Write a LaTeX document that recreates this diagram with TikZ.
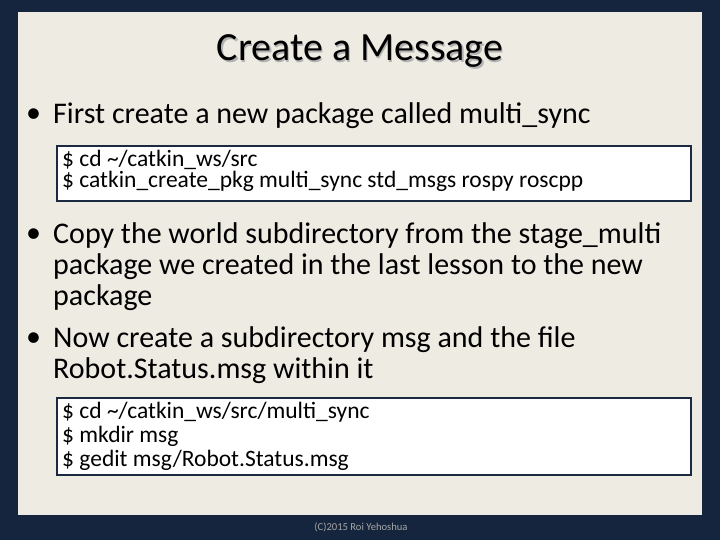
\documentclass[tikz,border=0pt]{standalone}
\usepackage{fontspec}
\setmainfont{Carlito}
\definecolor{slidebg}{HTML}{14253D}
\definecolor{panel}{HTML}{EEEBE3}
\definecolor{boxline}{HTML}{1B2A41}
\tikzset{
  bodytext/.style={anchor=west,inner sep=0pt,font=\fontsize{30}{34}\selectfont},
  codetext/.style={anchor=west,inner sep=0pt,font=\fontsize{23.5}{26}\selectfont},
  codebox/.style={draw=boxline,line width=2pt,fill=white}
}
\begin{document}
\begin{tikzpicture}[x=1pt,y=-1pt]
		\useasboundingbox (0,0) rectangle (720,540);
		\fill[slidebg] (0,0) rectangle (720,540);
		\fill[panel] (18,12) rectangle (702,515);
		
		% title
		\node[gray!60,font=\fontsize{40}{44}\selectfont] at (361.5,52.5) {Create a Message};
		\node (title) [font=\fontsize{40}{44}\selectfont] at (360,51) {Create a Message};
		
		% first bullet
		\node (b1) [bodytext] at (26,116) {•};
		\node (t1) [bodytext] at (53,116) {First create a new package called multi\_sync};
		\node (box1) [codebox,minimum width=634pt,minimum height=55pt,anchor=north west] at (56,145) {};
		\node (c1) [codetext] at (62,160) {\$ cd \textasciitilde/catkin\_ws/src};
		\node (c2) [codetext] at (62,181) {\$ catkin\_create\_pkg multi\_sync std\_msgs rospy roscpp};
		
		% further bullets
		\node (b2) [bodytext] at (26,236) {•};
		\node (t2) [bodytext] at (53,236) {Copy the world subdirectory from the stage\_multi};
		\node (t3) [bodytext] at (53,267) {package we created in the last lesson to the new};
		\node (t4) [bodytext] at (53,298) {package};
		\node (b3) [bodytext] at (26,340) {•};
		\node (t5) [bodytext] at (53,340) {Now create a subdirectory msg and the file};
		\node (t6) [bodytext] at (53,371) {Robot.Status.msg within it};
		
		\node (box2) [codebox,minimum width=634pt,minimum height=77pt,anchor=north west] at (56,397) {};
		\node (c3) [codetext] at (62,412) {\$ cd \textasciitilde/catkin\_ws/src/multi\_sync};
		\node (c4) [codetext] at (62,436) {\$ mkdir msg};
		\node (c5) [codetext] at (62,460) {\$ gedit msg/Robot.Status.msg};
		
		% footer
		\node (foot) [gray!70,font=\fontsize{10.6}{12}\selectfont] at (361,527) {(C)2015 Roi Yehoshua};
	\end{tikzpicture}
\end{document}
